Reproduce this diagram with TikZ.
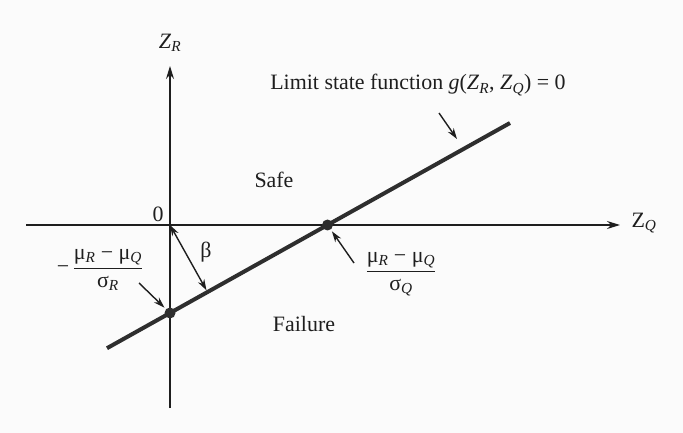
\documentclass[tikz,border=0pt]{standalone}
\usepackage{fontspec}
\setmainfont{Liberation Serif}
\usepackage{xcolor}
\usepackage{tikz}
\usetikzlibrary{positioning, calc, arrows.meta}
\definecolor{ink}{HTML}{1E1E1E}
\definecolor{lsf}{HTML}{2E2E2E}
\definecolor{paper}{HTML}{FBFBFB}

\begin{document}
\begin{tikzpicture}[x=1bp, y=-1bp,
  ax/.style={draw=ink, line width=1.4bp, -{Stealth[length=13bp, width=8bp]}},
  ptr/.style={draw=ink, line width=1.4bp, -{Stealth[length=11bp, width=7bp]}},
  lbl/.style={font=\fontsize{22}{25}\selectfont, text=ink, inner sep=1bp},
  dot/.style={circle, fill=lsf, inner sep=0pt, minimum size=11bp}
]
  \fill[paper] (0,0) rectangle (683,433);

  % axes
  \coordinate (orig) at (170,225);
  \coordinate (vb) at (170,408);
  \coordinate (vt) at (170,66);
  \coordinate (hl) at (26,225);
  \coordinate (hr) at (620,225);
  \draw[ax] (vb) -- (vt);
  \draw[ax] (hl) -- (hr);
  \node[lbl] (zr) at (170,43) {\textit{Z}\textsubscript{\textit{R}}};
  \node[lbl] (zq) at (644,223) {Z\textsubscript{\textit{Q}}};
  \node[lbl] (zero) at (158,214) {0};

  % limit state line
  \coordinate (lo) at (107,348.2);
  \coordinate (hi) at (510,123);
  \draw[lsf, line width=4bp] (lo) -- (hi);
  \node[dot] (dq) at (327.5,225) {};
  \node[dot] (dr) at (170,313) {};

  % reliability index
  \coordinate (ft) at ($(lo)!(orig)!(hi)$);
  \draw[ink, line width=1.4bp, {Stealth[length=11bp, width=7bp]}-{Stealth[length=11bp, width=7bp]}, shorten >=2bp] (orig) -- (ft);
  \node[lbl] (beta) at (206,252) {β};

  \node[lbl] (safe) at (274,180) {Safe};
  \node[lbl] (fail) at (304,324) {Failure};

  \node[lbl] (lsfn) at (418,85) {Limit state function \textit{g}(\textit{Z}\textsubscript{\textit{R}}, \textit{Z}\textsubscript{\textit{Q}}) = 0};
  \coordinate (la) at (439,113);
  \coordinate (lb) at (457,139);
  \draw[ptr] (la) -- (lb);

  \node[lbl] (fq) at (401,274) {$\displaystyle\frac{\mbox{μ\textsubscript{\textit{R}} − μ\textsubscript{\textit{Q}}}}{\mbox{σ\textsubscript{\textit{Q}}}}$};
  \coordinate (aq) at (354,263);
  \draw[ptr, shorten >=2bp] (aq) -- (dq);

  \node[lbl] (fr) at (100,270) {$\mbox{−}\,\displaystyle\frac{\mbox{μ\textsubscript{\textit{R}} − μ\textsubscript{\textit{Q}}}}{\mbox{σ\textsubscript{\textit{R}}}}$};
  \coordinate (ar) at (139,283);
  \draw[ptr, shorten >=2bp] (ar) -- (dr);
\end{tikzpicture}
\end{document}
